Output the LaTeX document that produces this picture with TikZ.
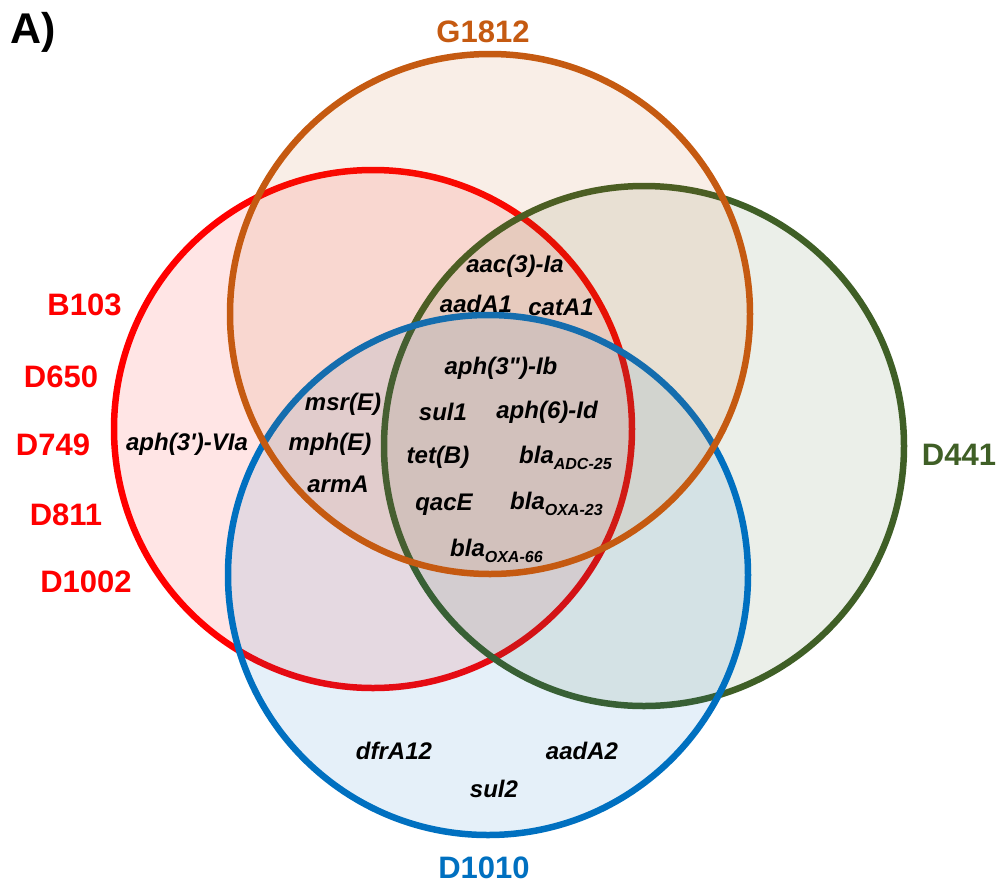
\documentclass[tikz,border=0pt]{standalone}
\usepackage{fontspec}
\setmainfont{Liberation Sans}
\definecolor{cred}{HTML}{FF0000}
\definecolor{corange}{HTML}{C55A11}
\definecolor{cgreen}{HTML}{3F5F26}
\definecolor{cblue}{HTML}{0070C0}
\newcommand{\genefnt}{\fontsize{24}{24}\selectfont\bfseries\itshape}
\newcommand{\labfnt}{\fontsize{31}{31}\selectfont\bfseries}
\newcommand{\blasub}[1]{bla\raisebox{-6pt}{\fontsize{16}{16}\selectfont #1}}
\begin{document}
\begin{tikzpicture}[x=1pt,y=-1pt,
  setc/.style={line width=6.5pt, fill opacity=0.1},
  gene/.style={font=\genefnt, inner sep=0pt, text=black},
  lab/.style={font=\labfnt, inner sep=0pt, anchor=base}]
\useasboundingbox (0,0) rectangle (997,884);
% sets
\coordinate (cR) at (373,429);
\coordinate (cG) at (644,446);
\coordinate (cB) at (488,575);
\coordinate (cO) at (490,314);
\draw[setc, draw=cred, fill=cred] (cR) circle[radius=259];
\draw[setc, draw=cgreen, fill=cgreen] (cG) circle[radius=260];
\draw[setc, draw=cblue, fill=cblue] (cB) circle[radius=260];
\draw[setc, draw=corange, fill=corange] (cO) circle[radius=260];
% panel label
\node[font=\fontsize{43}{43}\selectfont\bfseries, inner sep=0pt, anchor=base west] (panel) at (10,43) {A)};
% set labels
\node[lab, text=corange] (lG1812) at (483,42) {G1812};
\node[lab, text=cred] (lB103) at (84.5,315) {B103};
\node[lab, text=cred] (lD650) at (61,387) {D650};
\node[lab, text=cred] (lD749) at (53,455) {D749};
\node[lab, text=cred] (lD811) at (66,525) {D811};
\node[lab, text=cred] (lD1002) at (86,592) {D1002};
\node[lab, text=cgreen] (lD441) at (959,465) {D441};
\node[lab, text=cblue] (lD1010) at (484,878) {D1010};
% genes
\node[gene] (g1) at (187,444) {aph(3\textquotesingle)-VIa};
\node[gene] (g2) at (343,404) {msr(E)};
\node[gene] (g3) at (330,444) {mph(E)};
\node[gene] (g4) at (338,484) {armA};
\node[gene] (g5) at (515,266) {aac(3)-Ia};
\node[gene] (g6) at (476,304) {aadA1};
\node[gene] (g7) at (561,307) {catA1};
\node[gene] (g8) at (501,368) {aph(3\textquotedbl)-Ib};
\node[gene] (g9) at (443,412) {sul1};
\node[gene] (g10) at (547,412) {aph(6)-Id};
\node[gene] (g11) at (438,457) {tet(B)};
\node[gene] (g12) at (444,505) {qacE};
\node[gene, anchor=base west] (g13) at (519,463) {\blasub{ADC-25}};
\node[gene, anchor=base west] (g14) at (510,509) {\blasub{OXA-23}};
\node[gene, anchor=base west] (g15) at (450,556) {\blasub{OXA-66}};
\node[gene] (g16) at (394,751) {dfrA12};
\node[gene] (g17) at (582,751) {aadA2};
\node[gene] (g18) at (494,789) {sul2};
\end{tikzpicture}
\end{document}
